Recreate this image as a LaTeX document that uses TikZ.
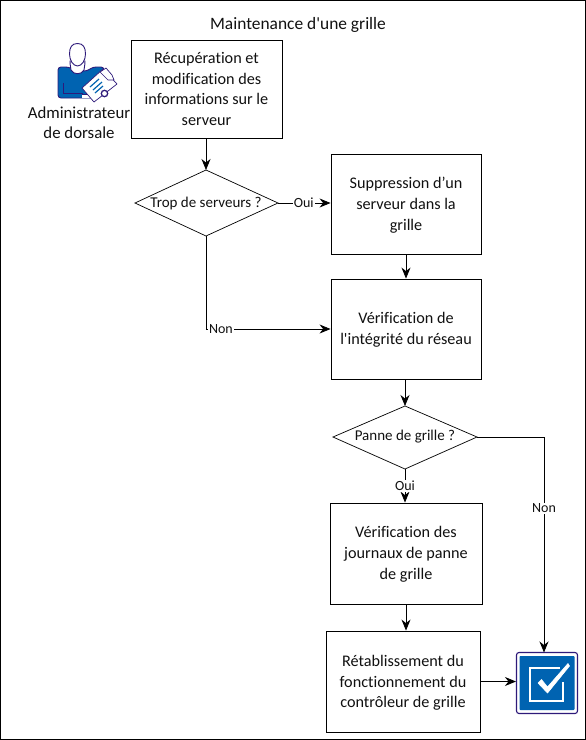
\documentclass[tikz,border=0pt]{standalone}
\usepackage{fontspec}
\setmainfont{Carlito}[Ligatures={TeXOff,CommonOff}]
\usetikzlibrary{shapes.geometric,arrows.meta}
\definecolor{ibmblue}{HTML}{0063B1}
\definecolor{ibmpurple}{HTML}{2E1A7A}
\definecolor{txt}{HTML}{111111}
\tikzset{
  x=1pt,y=-1pt,
  every node/.style={text=txt,font=\fontsize{16.2}{20.7}\selectfont},
  procbox/.style={draw=black,line width=0.9pt,fill=white,minimum width=#1,minimum height=100pt,align=center,inner sep=2pt},
  decitext/.style={font=\fontsize{15}{18}\selectfont},
  conn/.style={draw=black,line width=0.8pt,-{Stealth[length=11pt,width=9pt]}},
  lab/.style={fill=white,inner sep=1pt,font=\fontsize{14}{16}\selectfont},
}
\begin{document}
\begin{tikzpicture}
\useasboundingbox (0,0) rectangle (586,740);
\draw[line width=1.2pt] (0.6,0.6) rectangle (585.4,739.4);
\node[font=\fontsize{17.4}{22}\selectfont] (title) at (298,24.5) {Maintenance d'une grille};

% boxes
\node[procbox=151pt,minimum height=98pt] (b1) at (206.5,89) {Récupération et\\modification des\\informations sur le\\serveur};
\node[procbox=150pt] (b2) at (406,204) {\rule{0pt}{14pt}Suppression d’un\\serveur dans la\\grille};
\node[procbox=150pt] (b3) at (406,329) {\rule{0pt}{13pt}Vérification de\\l'intégrité du réseau};
\node[procbox=152pt,minimum height=101pt] (b4) at (406,553.5) {\rule{0pt}{13pt}Vérification des\\journaux de panne\\de grille};
\node[procbox=154pt,minimum height=101pt] (b5) at (403,681.5) {\rule{0pt}{14pt}Rétablissement du\\fonctionnement du\\contrôleur de grille};

% decisions
\path[draw=black,line width=0.7pt,fill=white] (135,203) -- (206,170) -- (278,203) -- (206,236) -- cycle;
\coordinate (d1w) at (135,203); \coordinate (d1n) at (206,170); \coordinate (d1e) at (278,203); \coordinate (d1s) at (206,236);
\node[decitext] (d1) at (206,203) {Trop de serveurs ?};
\path[draw=black,line width=0.7pt,fill=white] (333,437) -- (405,406) -- (477,437) -- (405,469) -- cycle;
\coordinate (d2w) at (333,437); \coordinate (d2n) at (405,406); \coordinate (d2e) at (477,437); \coordinate (d2s) at (405,469);
\node[decitext] (d2) at (405,437) {Panne de grille ?};

% icon end
\node[draw=ibmpurple,line width=1.1pt,fill=white,rounded corners=2.5pt,minimum size=61pt,inner sep=0pt] (endicon) at (547,683) {};
\fill[ibmblue,rounded corners=0.8pt] (519.5,656) rectangle (574.5,710);
\draw[white,line width=1.6pt] (560,668) -- (530,668) -- (530,701) -- (563,701) -- (563,682);
\path[fill=white,line join=round,draw=white,line width=0.6pt] (538,683) -- (541.5,679.5) -- (547.5,687) -- (568,663.5) -- (569.5,666) -- (547.5,693) -- cycle;

% connectors
\draw[conn] (b1.south -| d1n) -- (d1n);
\draw[conn] (d1e) -- node[lab,pos=0.49] (oui1) {Oui} (b2.west |- d1e);
\draw[conn] (b2.south) -- (b3.north);
\draw[conn] (d1s) -- (206,329) -- node[lab,pos=0.12] (non1) {Non} (b3.west);
\draw[conn] (b3.south -| d2n) -- (d2n);
\draw[conn] (d2s) -- node[lab,pos=0.5] (oui2) {Oui} (d2s |- b4.north);
\draw[conn] (d2e) -- (544,437) -- node[lab,pos=0.33] (non2) {Non} (544,652.5);
\draw[conn] (b4.south) -- (b4.south |- b5.north);
\draw[conn] (b5.east) -- (endicon.west |- b5.east);

% administrator icon
\fill[white] (60,72) rectangle (115,100);
\draw[ibmpurple,line width=0.9pt,rounded corners=3pt,fill=ibmblue] (58,67) -- (69,67) -- (75,71) -- (87,71) -- (93,67) -- (104,67) -- (104,92) -- (97,98) -- (58,98) -- cycle;
\draw[ibmpurple,line width=0.9pt,fill=white] (70,61) .. controls (70,66) and (71,68) .. (71,70) .. controls (74,75) and (81,75) .. (84,70) .. controls (84,68) and (85,66) .. (85,61) -- cycle;
\draw[ibmpurple,line width=0.9pt,fill=white] (69.5,54) .. controls (69.5,47) and (72,43.5) .. (77.5,43.5) .. controls (83,43.5) and (85.5,47) .. (85.5,54) .. controls (85.5,60) and (82,66) .. (77.5,66) .. controls (73,66) and (69.5,60) .. (69.5,54) -- cycle;
\draw[ibmpurple,line width=0.9pt] (63.5,83) -- (63.5,93) -- (83,93);
\fill[white] (82,93.5) rectangle (93,98);
\draw[ibmpurple,line width=0.7pt] (82,94) -- (93,94) -- (93,98);
\draw[ibmpurple,line width=0.7pt,fill=white,line join=round] (82,88) -- (103,69) -- (117,84) -- (94,102) -- cycle;
\draw[ibmpurple,line width=0.7pt,fill=white] (100,72) -- (106,68) -- (112,75) -- (114,80) -- (108,80) -- cycle;
\draw[ibmblue,line width=1.2pt] (90,87) -- (99,79) (93,90) -- (102,82) (95,93) -- (103,86);
\draw[ibmpurple,line width=1.3pt,fill=white] (104.5,93.5) circle (3.2);

\node[align=center,font=\fontsize{16.8}{20}\selectfont] (admin) at (79,123) {Administrateur\\de dorsale};
\end{tikzpicture}
\end{document}
